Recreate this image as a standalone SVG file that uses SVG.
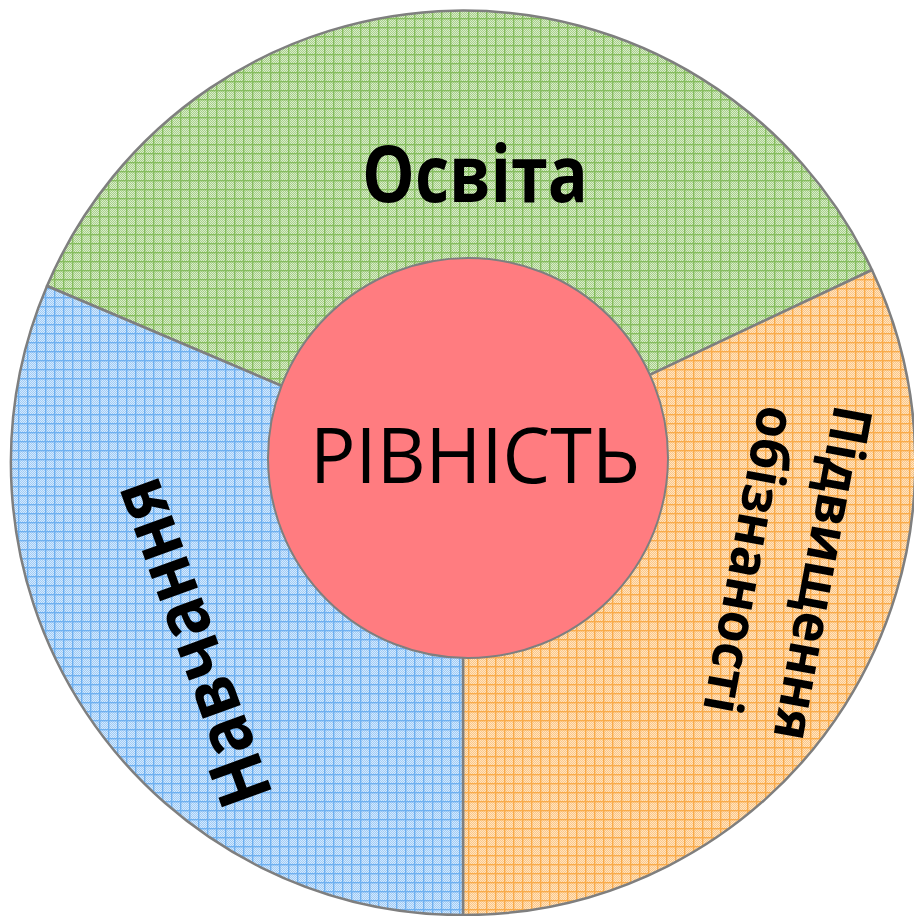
<svg xmlns="http://www.w3.org/2000/svg" width="914" height="916" viewBox="0 0 914 916">
  <style>
    .wedge { stroke: #7f7f7f; stroke-width: 2.5; stroke-linejoin: round; }
    .lbl { font-family: "Open Sans", "Noto Sans", "Liberation Sans", sans-serif; font-weight: 700; fill: #000; text-anchor: middle; }
    .center { font-family: "Open Sans", "Noto Sans", "Liberation Sans", sans-serif; font-weight: 400; fill: #000; text-anchor: middle; }
  </style>
  <defs>
    <pattern id="chkG" patternUnits="userSpaceOnUse" width="2" height="2">
      <rect width="2" height="2" fill="#d9ecca"/>
      <rect width="1" height="1" fill="#a6cf89"/>
      <rect x="1" y="1" width="1" height="1" fill="#a6cf89"/>
    </pattern>
    <pattern id="patG" patternUnits="userSpaceOnUse" width="9" height="9">
      <rect width="9" height="9" fill="url(#chkG)"/>
      <rect x="0" y="0" width="9" height="1.4" fill="#86bd5f"/>
      <rect x="0" y="0" width="1.4" height="9" fill="#86bd5f"/>
    </pattern>
    <pattern id="chkB" patternUnits="userSpaceOnUse" width="2" height="2">
      <rect width="2" height="2" fill="#d6e9fc"/>
      <rect width="1" height="1" fill="#9ccaf6"/>
      <rect x="1" y="1" width="1" height="1" fill="#9ccaf6"/>
    </pattern>
    <pattern id="patB" patternUnits="userSpaceOnUse" width="9" height="9">
      <rect width="9" height="9" fill="url(#chkB)"/>
      <rect x="0" y="0" width="9" height="1.4" fill="#6eb0f0"/>
      <rect x="0" y="0" width="1.4" height="9" fill="#6eb0f0"/>
    </pattern>
    <pattern id="chkO" patternUnits="userSpaceOnUse" width="2" height="2">
      <rect width="2" height="2" fill="#fee3c2"/>
      <rect width="1" height="1" fill="#fcc684"/>
      <rect x="1" y="1" width="1" height="1" fill="#fcc684"/>
    </pattern>
    <pattern id="patO" patternUnits="userSpaceOnUse" width="9" height="9">
      <rect width="9" height="9" fill="url(#chkO)"/>
      <rect x="0" y="0" width="9" height="1.4" fill="#f9ab4a"/>
      <rect x="0" y="0" width="1.4" height="9" fill="#f9ab4a"/>
    </pattern>
  </defs>

  <rect width="914" height="916" fill="#ffffff"/>

  <g id="node-osvita">
    <path class="wedge" fill="url(#patG)" d="M463,463 L47,286 A452,452 0 0 1 872,270 Z"/>
    <text class="lbl" x="475" y="202" font-size="78" textLength="226" lengthAdjust="spacingAndGlyphs">Освіта</text>
  </g>

  <g id="node-pidvyshchennya">
    <path class="wedge" fill="url(#patO)" d="M463,463 L872,270 A452,452 0 0 1 463,915 Z"/>
    <g transform="translate(804,570) rotate(100.5)">
      <text class="lbl" x="0" y="0" font-size="54" textLength="339" lengthAdjust="spacingAndGlyphs">Підвищення</text>
      <text class="lbl" x="0" y="74" font-size="54" textLength="311" lengthAdjust="spacingAndGlyphs">обізнаності</text>
    </g>
  </g>

  <g id="node-navchannya">
    <path class="wedge" fill="url(#patB)" d="M463,463 L463,915 A452,452 0 0 1 47,286 Z"/>
    <text class="lbl" transform="translate(215,634) rotate(-110)" x="0" y="0" font-size="74" textLength="342" lengthAdjust="spacingAndGlyphs">Навчання</text>
  </g>

  <g id="node-rivnist">
    <circle cx="468" cy="458" r="200" fill="#ff7c80" stroke="#7f7f7f" stroke-width="2"/>
    <text class="center" x="475" y="483" font-size="77" textLength="330" lengthAdjust="spacingAndGlyphs">РІВНІСТЬ</text>
  </g>
</svg>
